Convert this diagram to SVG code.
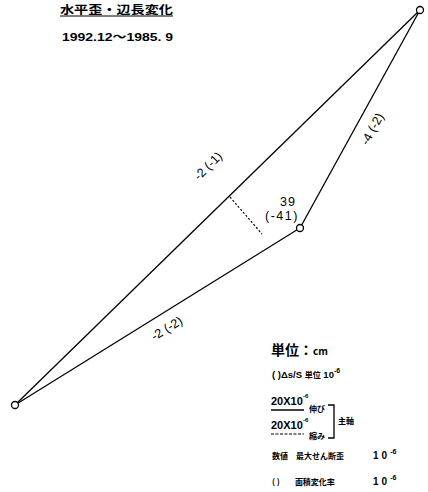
<svg xmlns="http://www.w3.org/2000/svg" width="428" height="492" viewBox="0 0 428 492">
<style>
.ln{stroke:#000;stroke-width:1.3;fill:none}
.nd{fill:#fff;stroke:#000;stroke-width:1.3}
.lb{font-family:"Liberation Sans","Noto Sans CJK JP",sans-serif;font-size:12.5px;fill:#000}
.jp{font-family:"Noto Sans CJK JP",sans-serif;font-weight:bold;fill:#000}
.mn{font-family:"Liberation Sans","Noto Sans CJK JP",sans-serif;font-weight:bold;fill:#000}
</style>
<rect width="428" height="492" fill="#fff"/>
<g id="title">
<text class="jp" x="60" y="14" font-size="11.5" textLength="113" lengthAdjust="spacingAndGlyphs">水平歪・辺長変化</text>
<line x1="60" y1="16" x2="173" y2="16" stroke="#000" stroke-width="1.2"/>
<text class="mn" x="62" y="41" font-size="11" textLength="111" lengthAdjust="spacingAndGlyphs">1992.12～1985. 9</text>
</g>
<g id="connectors">
<line class="ln" x1="15" y1="405" x2="420" y2="10"/>
<line class="ln" x1="15" y1="405" x2="300" y2="228"/>
<line class="ln" x1="300" y1="228" x2="420" y2="10"/>
<line x1="230" y1="197" x2="262" y2="234" stroke="#000" stroke-width="1.2" stroke-dasharray="2,2"/>
<text class="lb" transform="translate(211,169) rotate(-45)" text-anchor="middle">-2 (-1)</text>
<text class="lb" transform="translate(169,332) rotate(-32)" text-anchor="middle">-2 (-2)</text>
<text class="lb" transform="translate(376,131) rotate(-61)" text-anchor="middle">-4 (-2)</text>
</g>
<g id="n1"><circle class="nd" cx="15" cy="405" r="3.5"/></g>
<g id="n2"><circle class="nd" cx="420" cy="10" r="3.5"/></g>
<g id="n3">
<circle class="nd" cx="300" cy="228" r="3.5"/>
<text class="lb" x="288" y="206" text-anchor="middle" letter-spacing="1">39</text>
<text class="lb" x="282" y="220" text-anchor="middle" letter-spacing="1.5">(-41)</text>
</g>
<g id="legend">
<text class="jp" x="271" y="355" font-size="14">単位：<tspan font-size="10">cm</tspan></text>
<text class="mn" x="272" y="378" font-size="9.5">(  )Δs/S <tspan class="jp" font-size="8">単位</tspan> 10<tspan dy="-5" font-size="7">-6</tspan></text>
<text class="mn" x="271" y="405" font-size="11">20X10</text>
<text class="mn" x="303" y="398" font-size="6">-6</text>
<line x1="271" y1="410" x2="304" y2="410" stroke="#000" stroke-width="1.3"/>
<text class="jp" x="309" y="412" font-size="8">伸び</text>
<text class="mn" x="271" y="429" font-size="11">20X10</text>
<text class="mn" x="303" y="422" font-size="6">-6</text>
<line x1="271" y1="434" x2="304" y2="434" stroke="#000" stroke-width="1.2" stroke-dasharray="3,1.5"/>
<text class="jp" x="309" y="439" font-size="8">縮み</text>
<path d="M328,405 H334 V438 H328" class="ln" stroke-width="1.2"/>
<text class="jp" x="338" y="424" font-size="8">主軸</text>
<text class="jp" x="272" y="459" font-size="8">数値<tspan dx="8">最大せん断歪</tspan></text>
<text class="mn" x="373" y="459" font-size="10" letter-spacing="3">10<tspan dy="-5" font-size="7" letter-spacing="0">-6</tspan></text>
<text class="jp" x="272" y="485" font-size="8">( )<tspan dx="15">面積変化率</tspan></text>
<text class="mn" x="373" y="485" font-size="10" letter-spacing="3">10<tspan dy="-5" font-size="7" letter-spacing="0">-6</tspan></text>
</g>
</svg>
